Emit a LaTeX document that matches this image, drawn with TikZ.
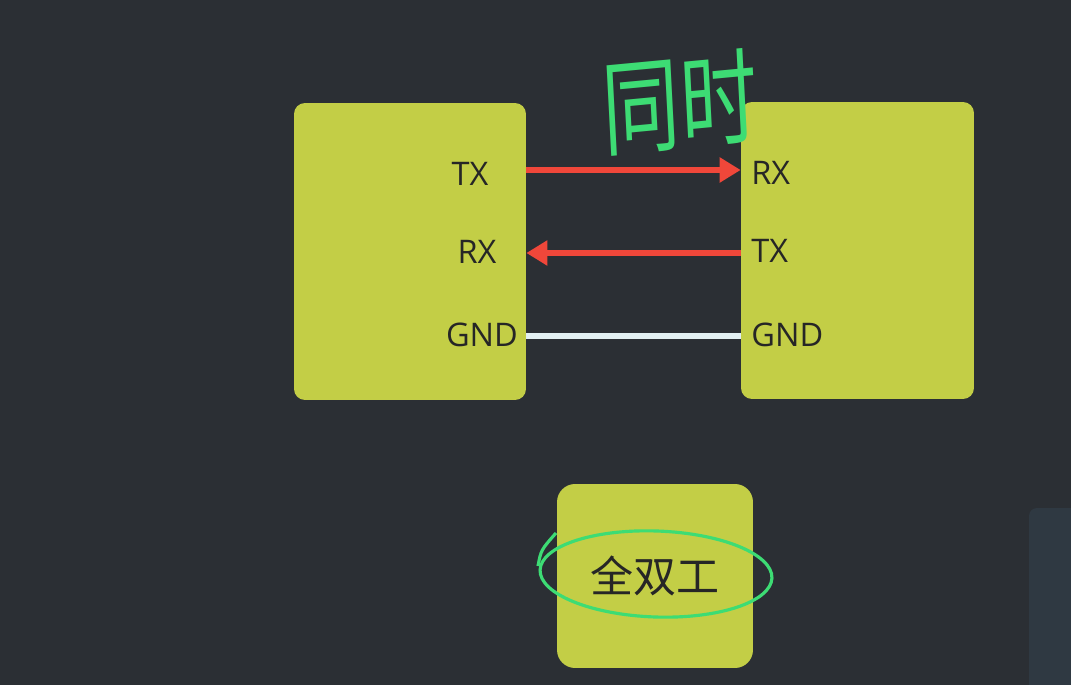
\documentclass[tikz,border=0pt]{standalone}
\usepackage{fontspec}
\setmainfont{Open Sans}
\newfontfamily\cjk{Noto Sans CJK SC}
\usetikzlibrary{arrows.meta,positioning,calc}
\definecolor{board}{HTML}{2B2F34}
\definecolor{sidepanel}{HTML}{2F3942}
\definecolor{pad}{HTML}{C3CE46}
\definecolor{wire}{HTML}{F0473A}
\definecolor{gndwire}{HTML}{E2F0F2}
\definecolor{pen}{HTML}{3DDC74}
\tikzset{
  chip/.style={fill=pad,rounded corners=0.22cm,inner sep=0pt},
  pin/.style={font=\fontsize{18.5}{22}\selectfont,text=black!85,inner sep=0pt},
  sig/.style={wire,line width=3.9pt,-{Triangle[length=0.42cm,width=0.48cm]}},
}
\begin{document}
\begin{tikzpicture}[x=0.02cm,y=-0.02cm]
\fill[board] (0,0) rectangle (1071,685);
\useasboundingbox (0,0) rectangle (1071,685);
\fill[sidepanel,rounded corners=0.16cm] (1029,508) rectangle (1090,700);
% the two devices
\node[chip,minimum width=4.64cm,minimum height=5.94cm] (left) at (410,251.5) {};
\node[chip,minimum width=4.66cm,minimum height=5.94cm] (right) at (857.5,250.5) {};
\node[pin] (ltx) at (470,174) {TX};
\node[pin] (lrx) at (477,252) {RX};
\node[pin] (lgnd) at (482,335) {GND};
\node[pin,anchor=west] (rrx) at (751,173) {RX};
\node[pin,anchor=west] (rtx) at (751,251) {TX};
\node[pin,anchor=west] (rgnd) at (751,335) {GND};
\coordinate (a1) at (left.east |- 0,170); \coordinate (b1) at (right.west |- 0,170);
\coordinate (a2) at (left.east |- 0,253); \coordinate (b2) at (right.west |- 0,253);
\coordinate (a3) at (left.east |- 0,336); \coordinate (b3) at (right.west |- 0,336);
\draw[sig] (a1) -- (b1);
\draw[sig] (b2) -- (a2);
\draw[gndwire,line width=3.3pt] (a3) -- (b3);
% full duplex label
\node[chip,rounded corners=0.36cm,minimum width=3.92cm,minimum height=3.68cm] (mode) at (655,576) {};
\node[font=\cjk\fontsize{24.5}{28}\selectfont,text=black!85] (duplex) at (mode.center) {全双工};
% pen notes
\node[font=\cjk\fontsize{44}{48}\selectfont,text=pen,yscale=1.35,rotate=4,transform shape] (note) at (680,102) {同时};
\draw[pen,line width=1.8pt,rotate around={-2:(656,574)}] (656,574) ellipse [x radius=116, y radius=43];
\draw[pen,line width=1.8pt] (538,566) .. controls (541,550) .. (556,533);
\end{tikzpicture}
\end{document}
